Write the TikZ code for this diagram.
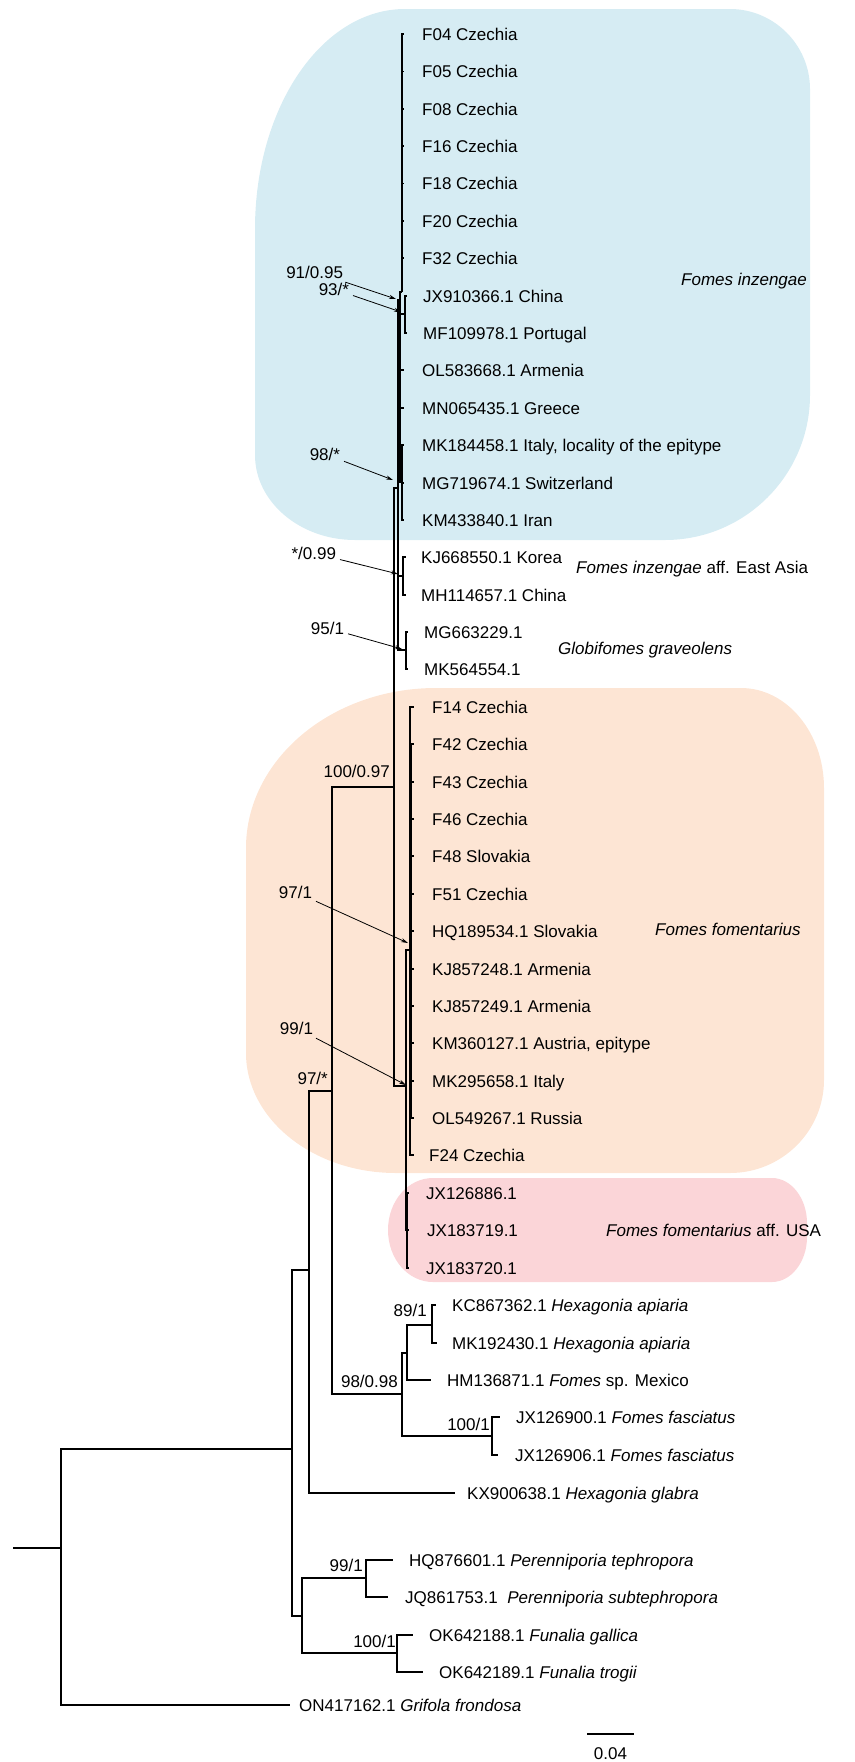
\documentclass[tikz,border=0pt]{standalone}
\usepackage{fontspec}
\setmainfont{Liberation Sans}
\usetikzlibrary{positioning,arrows.meta}
\definecolor{inzblue}{RGB}{214,236,243}
\definecolor{fomorange}{RGB}{253,229,212}
\definecolor{usapink}{RGB}{251,213,216}
\tikzset{
  leaf/.style={inner sep=0pt, text height=12.3bp, text depth=0pt, font=\fontsize{17bp}{20bp}\selectfont},
  clade/.style={leaf, anchor=west},
  supp/.style={leaf, anchor=south east},
  arlbl/.style={leaf, anchor=east, outer sep=4bp},
  pointer/.style={line width=0.8bp, -{Stealth[length=7bp,width=4bp]}},
  br/.style={line width=1.2bp},
  rootbr/.style={line width=1.8bp},
}
\begin{document}
\begin{tikzpicture}[x=1bp,y=-1bp]
\useasboundingbox (0,0) rectangle (855,1762);
\fill[inzblue] (255,229) .. controls (255,107) and (322,9) .. (405,9) -- (730,9)
  .. controls (774,9) and (810,45) .. (810,89) -- (810,395)
  .. controls (810,475) and (745,540) .. (665,540) -- (355,540)
  .. controls (300,540) and (255,502) .. (255,455) -- cycle;
\fill[fomorange] (246,848) .. controls (246,760) and (331,688) .. (436,688) -- (741,688)
  .. controls (787,688) and (824,733) .. (824,788) -- (824,1080)
  .. controls (824,1131) and (782,1173) .. (730,1173) -- (396,1173)
  .. controls (313,1173) and (246,1119) .. (246,1053) -- cycle;
\fill[usapink] (388,1230) .. controls (388,1201) and (408,1178) .. (433,1178) -- (772,1178)
  .. controls (791,1178) and (807,1198) .. (807,1223) -- (807,1237)
  .. controls (807,1262) and (791,1282) .. (772,1282) -- (433,1282)
  .. controls (408,1282) and (388,1259) .. (388,1230) -- cycle;

\coordinate (r0) at (13,1548);
\coordinate (n0) at (61,1548);
\coordinate (n1) at (292,1449);
\coordinate (n2) at (309,1270);
\coordinate (n3) at (302,1616);
\coordinate (n4) at (332,1091);
\coordinate (nP) at (394,787);
\coordinate (nH) at (402,1394);
\coordinate (nQ) at (398,488);
\coordinate (nF) at (406,1086);
\coordinate (nI) at (400,300);
\coordinate (nE) at (403,576);
\coordinate (nG) at (406,650);
\coordinate (nC) at (402,292);
\coordinate (nJ) at (405,314);
\coordinate (nK) at (402,482);
\coordinate (nFo) at (410,950);
\coordinate (nFi) at (411,931);
\coordinate (nU) at (407,1230);
\coordinate (nA) at (407,1353);
\coordinate (nB) at (432,1325);
\coordinate (nS) at (492,1436);
\coordinate (nPe) at (366,1578);
\coordinate (nFu) at (397,1653);

\coordinate (tF04) at (404,34); \node[leaf,right=18bp of tF04] (lF04) {F04 Czechia};
\coordinate (tF05) at (404,71.5); \node[leaf,right=18bp of tF05] (lF05) {F05 Czechia};
\coordinate (tF08) at (404,109); \node[leaf,right=18bp of tF08] (lF08) {F08 Czechia};
\coordinate (tF16) at (404,146); \node[leaf,right=18bp of tF16] (lF16) {F16 Czechia};
\coordinate (tF18) at (404,183.5); \node[leaf,right=18bp of tF18] (lF18) {F18 Czechia};
\coordinate (tF20) at (404,221); \node[leaf,right=18bp of tF20] (lF20) {F20 Czechia};
\coordinate (tF32) at (404,258); \node[leaf,right=18bp of tF32] (lF32) {F32 Czechia};
\coordinate (tJX9) at (407,296); \node[leaf,right=16bp of tJX9] (lJX9) {JX910366.1 China};
\coordinate (tMF1) at (407,333); \node[leaf,right=16bp of tMF1] (lMF1) {MF109978.1 Portugal};
\coordinate (tOL58) at (404,370); \node[leaf,right=18bp of tOL58] (lOL58) {OL583668.1 Armenia};
\coordinate (tMN06) at (404,408); \node[leaf,right=18bp of tMN06] (lMN06) {MN065435.1 Greece};
\coordinate (tMK18) at (404,445); \node[leaf,right=18bp of tMK18] (lMK18) {MK184458.1 Italy, locality of the epitype};
\coordinate (tMG71) at (404,483); \node[leaf,right=18bp of tMG71] (lMG71) {MG719674.1 Switzerland};
\coordinate (tKM43) at (404,520); \node[leaf,right=18bp of tKM43] (lKM43) {KM433840.1 Iran};
\coordinate (tKJ66) at (406,557); \node[leaf,right=15bp of tKJ66] (lKJ66) {KJ668550.1 Korea};
\coordinate (tMH11) at (406,595); \node[leaf,right=15bp of tMH11] (lMH11) {MH114657.1 China};
\coordinate (tMG66) at (408,632); \node[leaf,right=16bp of tMG66] (lMG66) {MG663229.1};
\coordinate (tMK56) at (408,669); \node[leaf,right=16bp of tMK56] (lMK56) {MK564554.1};
\coordinate (tF14) at (414,707); \node[leaf,right=18bp of tF14] (lF14) {F14 Czechia};
\coordinate (tF42) at (414,744); \node[leaf,right=18bp of tF42] (lF42) {F42 Czechia};
\coordinate (tF43) at (414,782); \node[leaf,right=18bp of tF43] (lF43) {F43 Czechia};
\coordinate (tF46) at (414,819); \node[leaf,right=18bp of tF46] (lF46) {F46 Czechia};
\coordinate (tF48) at (414,856); \node[leaf,right=18bp of tF48] (lF48) {F48 Slovakia};
\coordinate (tF51) at (414,894); \node[leaf,right=18bp of tF51] (lF51) {F51 Czechia};
\coordinate (tHQ18) at (414,931); \node[leaf,right=18bp of tHQ18] (lHQ18) {HQ189534.1 Slovakia};
\coordinate (tKJ248) at (414,969); \node[leaf,right=18bp of tKJ248] (lKJ248) {KJ857248.1 Armenia};
\coordinate (tKJ249) at (414,1006); \node[leaf,right=18bp of tKJ249] (lKJ249) {KJ857249.1 Armenia};
\coordinate (tKM36) at (414,1043); \node[leaf,right=18bp of tKM36] (lKM36) {KM360127.1 Austria, epitype};
\coordinate (tMK29) at (414,1081); \node[leaf,right=18bp of tMK29] (lMK29) {MK295658.1 Italy};
\coordinate (tOL54) at (414,1118); \node[leaf,right=18bp of tOL54] (lOL54) {OL549267.1 Russia};
\coordinate (tF24) at (414,1155); \node[leaf,right=15bp of tF24] (lF24) {F24 Czechia};
\coordinate (tJX886) at (409,1193); \node[leaf,right=17bp of tJX886] (lJX886) {JX126886.1};
\coordinate (tJX719) at (409,1230); \node[leaf,right=18bp of tJX719] (lJX719) {JX183719.1};
\coordinate (tJX720) at (409,1268); \node[leaf,right=17bp of tJX720] (lJX720) {JX183720.1};
\coordinate (tKC86) at (436,1305); \node[leaf,right=16bp of tKC86] (lKC86) {KC867362.1 \textit{Hexagonia apiaria}};
\coordinate (tMK19) at (437,1343); \node[leaf,right=15bp of tMK19] (lMK19) {MK192430.1 \textit{Hexagonia apiaria}};
\coordinate (tHM13) at (431,1380); \node[leaf,right=16bp of tHM13] (lHM13) {HM136871.1 \textit{Fomes} sp. Mexico};
\coordinate (tJX900) at (500,1417); \node[leaf,right=16bp of tJX900] (lJX900) {JX126900.1 \textit{Fomes fasciatus}};
\coordinate (tJX906) at (498,1455); \node[leaf,right=17bp of tJX906] (lJX906) {JX126906.1 \textit{Fomes fasciatus}};
\coordinate (tKX90) at (455,1493); \node[leaf,right=12bp of tKX90] (lKX90) {KX900638.1 \textit{Hexagonia glabra}};
\coordinate (tHQ87) at (393,1560); \node[leaf,right=16bp of tHQ87] (lHQ87) {HQ876601.1 \textit{Perenniporia tephropora}};
\coordinate (tJQ86) at (388,1597); \node[leaf,right=17bp of tJQ86] (lJQ86) {JQ861753.1\ \ \textit{Perenniporia subtephropora}};
\coordinate (tOK88) at (413,1635); \node[leaf,right=16bp of tOK88] (lOK88) {OK642188.1 \textit{Funalia gallica}};
\coordinate (tOK89) at (423,1672); \node[leaf,right=16bp of tOK89] (lOK89) {OK642189.1 \textit{Funalia trogii}};
\coordinate (tON41) at (290,1705); \node[leaf,right=9bp of tON41] (lON41) {ON417162.1 \textit{Grifola frondosa}};

\draw[rootbr] (r0) -- (n0);
\draw[rootbr] (n0) |- (n1);
\draw[rootbr] (n0) |- (tON41);
\draw[br] (n1) |- (n2);
\draw[br] (n1) |- (n3);
\draw[br] (n2) |- (n4);
\draw[br] (n2) |- (tKX90);
\draw[br] (n4) |- (nP);
\draw[br] (n4) |- (nH);
\draw[br] (nP) |- (nQ);
\draw[br] (nP) |- (nF);
\draw[br] (nQ) |- (nI);
\draw[br] (nQ) |- (nE);
\draw[br] (nQ) |- (nG);
\draw[br] (nI) |- (nC);
\draw[br] (nI) |- (nJ);
\draw[br] (nI) |- (tOL58);
\draw[br] (nI) |- (tMN06);
\draw[br] (nI) |- (nK);
\draw[br] (nC) |- (tF04);
\draw[br] (nC) |- (tF05);
\draw[br] (nC) |- (tF08);
\draw[br] (nC) |- (tF16);
\draw[br] (nC) |- (tF18);
\draw[br] (nC) |- (tF20);
\draw[br] (nC) |- (tF32);
\draw[br] (nJ) |- (tJX9);
\draw[br] (nJ) |- (tMF1);
\draw[br] (nK) |- (tMK18);
\draw[br] (nK) |- (tMG71);
\draw[br] (nK) |- (tKM43);
\draw[br] (nE) |- (tKJ66);
\draw[br] (nE) |- (tMH11);
\draw[br] (nG) |- (tMG66);
\draw[br] (nG) |- (tMK56);
\draw[br] (nF) |- (nFo);
\draw[br] (nF) |- (nU);
\draw[br] (nFo) |- (tF14);
\draw[br] (nFo) |- (nFi);
\draw[br] (nFo) |- (tF24);
\draw[br] (nFi) |- (tF42);
\draw[br] (nFi) |- (tF43);
\draw[br] (nFi) |- (tF46);
\draw[br] (nFi) |- (tF48);
\draw[br] (nFi) |- (tF51);
\draw[br] (nFi) |- (tHQ18);
\draw[br] (nFi) |- (tKJ248);
\draw[br] (nFi) |- (tKJ249);
\draw[br] (nFi) |- (tKM36);
\draw[br] (nFi) |- (tMK29);
\draw[br] (nFi) |- (tOL54);
\draw[br] (nU) |- (tJX886);
\draw[br] (nU) |- (tJX719);
\draw[br] (nU) |- (tJX720);
\draw[br] (nH) |- (nA);
\draw[br] (nH) |- (nS);
\draw[br] (nA) |- (nB);
\draw[br] (nA) |- (tHM13);
\draw[br] (nB) |- (tKC86);
\draw[br] (nB) |- (tMK19);
\draw[br] (nS) |- (tJX900);
\draw[br] (nS) |- (tJX906);
\draw[br] (n3) |- (nPe);
\draw[br] (n3) |- (nFu);
\draw[br] (nPe) |- (tHQ87);
\draw[br] (nPe) |- (tJQ86);
\draw[br] (nFu) |- (tOK88);
\draw[br] (nFu) |- (tOK89);

\node[supp] (s1000) at ([xshift=-4bp,yshift=9bp]nP) {100/0.97};
\node[supp] (s97) at ([xshift=-4bp,yshift=6bp]n4) {97/*};
\node[supp] (s98) at ([xshift=-4bp,yshift=6bp]nH) {98/0.98};
\node[supp] (s89) at ([xshift=-5bp,yshift=8bp]nB) {89/1};
\node[supp] (s100s) at ([xshift=-2bp,yshift=5bp]nS) {100/1};
\node[supp] (s99p) at ([xshift=-3bp,yshift=6bp]nPe) {99/1};
\node[supp] (s100f) at ([xshift=-1bp,yshift=5bp]nFu) {100/1};

\coordinate (pI) at (396,299);
\coordinate (pJ) at (401,312);
\coordinate (pQ) at (393,480);
\coordinate (pE) at (398,574);
\coordinate (pG) at (402,649);
\coordinate (pFo) at (408,943);
\coordinate (pF) at (406,1085);
\node[arlbl] (a91) at (347,272) {91/0.95};
\node[arlbl] (a93) at (353,289) {93/*};
\node[arlbl] (a98) at (344,454) {98/*};
\node[arlbl] (a099) at (340,553) {*/0.99};
\node[arlbl] (a95) at (348,628) {95/1};
\node[arlbl] (a97) at (316,892) {97/1};
\node[arlbl] (a99) at (317,1028) {99/1};
\draw[pointer] (a91) -- (pI);
\draw[pointer] (a93) -- (pJ);
\draw[pointer] (a98) -- (pQ);
\draw[pointer] (a099) -- (pE);
\draw[pointer] (a95) -- (pG);
\draw[pointer] (a97) -- (pFo);
\draw[pointer] (a99) -- (pF);

\node[clade] (cInz) at (681,279) {\textit{Fomes inzengae}};
\node[clade] (cEA) at (576,567) {\textit{Fomes inzengae} aff. East Asia};
\node[clade] (cGlo) at (558,648) {\textit{Globifomes graveolens}};
\node[clade] (cFom) at (655,929) {\textit{Fomes fomentarius}};
\node[clade] (cUSA) at (606,1230) {\textit{Fomes fomentarius} aff. USA};

\coordinate (sb1) at (587,1734);
\coordinate (sb2) at (634,1734);
\draw[br] (sb1) -- (sb2) coordinate[midway] (sbm);
\node[leaf,below=13bp of sbm] (sblbl) {0.04};
\end{tikzpicture}
\end{document}
